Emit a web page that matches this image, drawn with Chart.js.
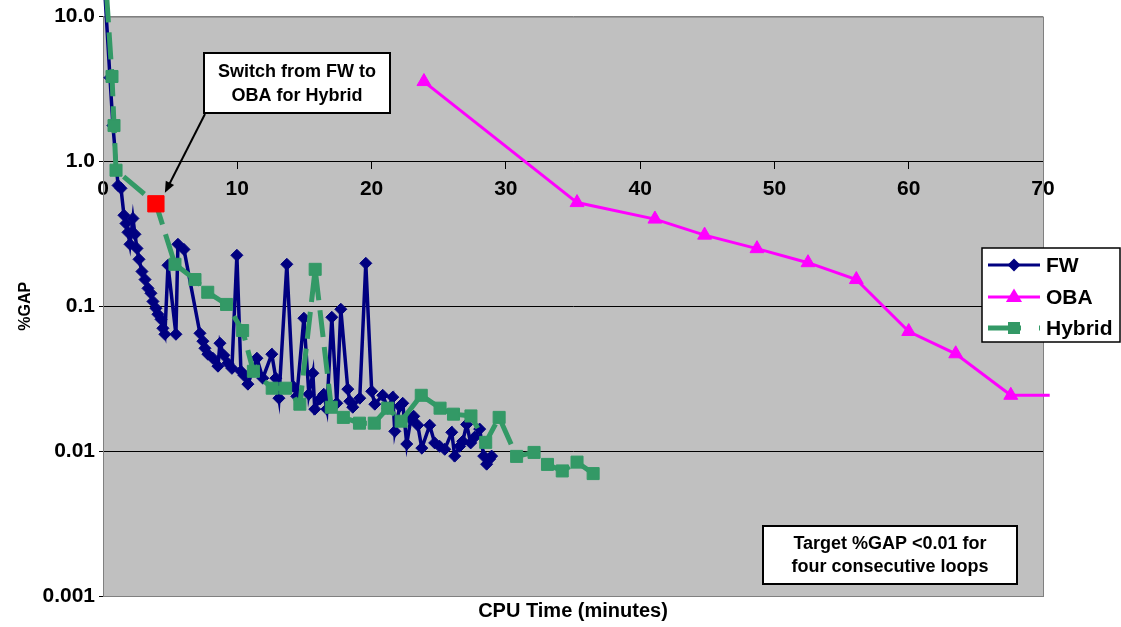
<!DOCTYPE html>
<html>
<head>
<meta charset="utf-8">
<script src="https://cdn.jsdelivr.net/npm/chart.js@4.4.0/dist/chart.umd.min.js"></script>
<style>
  html, body { margin: 0; padding: 0; background: #fff; }
  canvas { display: block; }
</style>
</head>
<body>
<canvas id="gap" width="1121" height="627"></canvas>
<script>
// CPU time (minutes) and %GAP
const fwTime = [0.15, 0.52, 0.74, 1.12, 1.34, 1.56, 1.71, 1.86, 2.01, 2.23, 2.38, 2.53, 2.68, 2.90, 3.13,
  3.35, 3.57, 3.72, 3.94, 4.09, 4.32, 4.46, 4.61, 4.84, 5.43, 5.58, 6.03, 7.22, 7.44, 7.59, 7.81, 8.18,
  8.56, 8.71, 9.00, 9.30, 9.60, 9.97, 10.27, 10.49, 10.79, 11.46, 11.90, 12.57, 12.87, 13.10, 13.69,
  14.14, 14.43, 14.96, 15.33, 15.63, 15.77, 16.15, 16.44, 16.67, 17.04, 17.41, 17.71, 18.23, 18.38,
  18.60, 19.12, 19.57, 20.01, 20.24, 20.83, 21.21, 21.58, 21.73, 22.10, 22.32, 22.62, 22.92, 23.14,
  23.44, 23.74, 24.33, 24.70, 25.07, 25.45, 25.97, 26.19, 26.56, 26.79, 27.08, 27.38, 27.68, 28.05,
  28.35, 28.57, 28.79, 28.94];
const fwGap = [14, 3.79, 1.77, 0.683, 0.652, 0.425, 0.373, 0.324, 0.268, 0.404, 0.314, 0.251, 0.211, 0.174, 0.153,
  0.133, 0.123, 0.108, 0.0969, 0.0881, 0.0813, 0.0705, 0.0641, 0.192, 0.0641, 0.268, 0.247, 0.0651, 0.0574, 0.0513, 0.0467, 0.0438,
  0.0386, 0.0556, 0.0459, 0.0404, 0.0373, 0.225, 0.0356, 0.0334, 0.029, 0.0438, 0.0319, 0.0467, 0.0319, 0.0232, 0.195,
  0.0281, 0.0239, 0.0827, 0.0247, 0.0345, 0.0195, 0.0229, 0.0247, 0.0195, 0.084, 0.0214, 0.0954, 0.0268, 0.0221,
  0.0201, 0.0232, 0.198, 0.0259, 0.0211, 0.0243, 0.0198, 0.0236, 0.0137, 0.0204, 0.0214, 0.0112, 0.0166, 0.0174,
  0.0151, 0.0105, 0.0151, 0.0114, 0.0108, 0.0103, 0.0135, 0.00924, 0.0108, 0.0117, 0.0153, 0.0114, 0.0125, 0.0142,
  0.00924, 0.00813, 0.00881, 0.00924];

const obaTime = [23.9, 35.3, 41.1, 44.8, 48.7, 52.5, 56.1, 60.0, 63.5, 67.6, 70.5];
const obaGap = [3.56, 0.52, 0.40, 0.31, 0.25, 0.20, 0.153, 0.067, 0.047, 0.0243, 0.0243];

const hybTime = [0.27, 0.67, 0.82, 0.97, 3.94, 5.36, 6.85, 7.8, 9.2, 10.4, 11.2, 12.6, 13.6, 14.66, 15.8,
  17.0, 17.9, 19.1, 20.2, 21.2, 22.2, 23.7, 25.1, 26.1, 27.4, 28.5, 29.5, 30.8, 32.1, 33.1, 34.2, 35.3, 36.5];
const hybGap = [14, 3.86, 1.77, 0.87, 0.51, 0.195, 0.153, 0.125, 0.103, 0.068, 0.0356, 0.0272, 0.0272, 0.0211, 0.180,
  0.0201, 0.0171, 0.0156, 0.0156, 0.0198, 0.0161, 0.0243, 0.0198, 0.018, 0.0175, 0.0115, 0.0171, 0.0092, 0.0098, 0.0081, 0.0073, 0.0084, 0.0070];
const switchIdx = 4; // FW -> OBA switch point of the hybrid run

const xTicks = [0, 10, 20, 30, 40, 50, 60, 70];
const yTicks = [0.001, 0.01, 0.1, 1, 10];
const yTickLabels = ['0.001', '0.01', '0.1', '1.0', '10.0'];

const NAVY = '#000080', PINK = '#FF00FF', GREEN = '#339966', RED = '#FF0000';
const FONT = '"Liberation Sans", Arial, sans-serif';

const pts = (xs, ys) => xs.map((x, i) => ({ x: x, y: ys[i] }));

Chart.defaults.font.family = FONT;
Chart.defaults.color = '#000';

// grey plot area + frame
const plotBox = {
  id: 'plotBox',
  beforeDraw(chart) {
    const { ctx, chartArea: a } = chart;
    ctx.save();
    ctx.fillStyle = '#C0C0C0';
    ctx.fillRect(a.left, a.top, a.right - a.left, a.bottom - a.top);
    ctx.restore();
  },
  beforeDatasetsDraw(chart) {
    const { ctx, chartArea: a } = chart;
    ctx.save();
    ctx.strokeStyle = '#808080';
    ctx.lineWidth = 1;
    ctx.strokeRect(a.left + 0.5, a.top + 0.5, a.right - a.left, a.bottom - a.top);
    ctx.restore();
  }
};

function textBox(ctx, x, y, w, h, lines, cx, ys) {
  ctx.fillStyle = '#fff';
  ctx.fillRect(x, y, w, h);
  ctx.strokeStyle = '#000';
  ctx.lineWidth = 2;
  ctx.strokeRect(x, y, w, h);
  ctx.fillStyle = '#000';
  ctx.font = 'bold 18px ' + FONT;
  ctx.textAlign = 'center';
  ctx.textBaseline = 'middle';
  lines.forEach((t, i) => ctx.fillText(t, cx, ys[i]));
}

function marker(ctx, style, x, y, r, color) {
  ctx.fillStyle = color;
  ctx.beginPath();
  if (style === 'diamond') {
    ctx.moveTo(x, y - r); ctx.lineTo(x + r, y); ctx.lineTo(x, y + r); ctx.lineTo(x - r, y);
  } else if (style === 'triangle') {
    ctx.moveTo(x, y - r); ctx.lineTo(x + r * 0.95, y + r * 0.6); ctx.lineTo(x - r * 0.95, y + r * 0.6);
  } else {
    ctx.rect(x - r, y - r, 2 * r, 2 * r);
  }
  ctx.closePath();
  ctx.fill();
}

const notes = {
  id: 'notes',
  afterDraw(chart) {
    const { ctx, scales } = chart;
    ctx.save();

    // switch annotation with arrow to the red point
    textBox(ctx, 204, 53, 186, 60, ['Switch from FW to', 'OBA for Hybrid'], 297, [72, 96]);
    const px = scales.x.getPixelForValue(hybTime[switchIdx]);
    const py = scales.y.getPixelForValue(hybGap[switchIdx]);
    const x0 = 205, y0 = 114, x1 = px + 9, y1 = py - 11;
    const ang = Math.atan2(y1 - y0, x1 - x0);
    ctx.strokeStyle = '#000';
    ctx.lineWidth = 2;
    ctx.beginPath();
    ctx.moveTo(x0, y0);
    ctx.lineTo(x1 - 6 * Math.cos(ang), y1 - 6 * Math.sin(ang));
    ctx.stroke();
    ctx.fillStyle = '#000';
    ctx.beginPath();
    ctx.moveTo(x1, y1);
    ctx.lineTo(x1 - 12 * Math.cos(ang - 0.4), y1 - 12 * Math.sin(ang - 0.4));
    ctx.lineTo(x1 - 12 * Math.cos(ang + 0.4), y1 - 12 * Math.sin(ang + 0.4));
    ctx.closePath();
    ctx.fill();

    textBox(ctx, 763, 526, 254, 58, ['Target %GAP <0.01 for', 'four consecutive loops'], 890, [544, 567]);

    // legend
    ctx.fillStyle = '#fff';
    ctx.fillRect(982, 248, 138, 94);
    ctx.strokeStyle = '#000';
    ctx.lineWidth = 1.5;
    ctx.strokeRect(982, 248, 138, 94);
    const rows = [
      { label: 'FW', color: NAVY, style: 'diamond', r: 6.5, y: 265, w: 3, dash: [] },
      { label: 'OBA', color: PINK, style: 'triangle', r: 8.5, y: 297, w: 3, dash: [] },
      { label: 'Hybrid', color: GREEN, style: 'square', r: 6, y: 328, w: 5, dash: [33, 18] }
    ];
    rows.forEach(rw => {
      ctx.strokeStyle = rw.color;
      ctx.lineWidth = rw.w;
      ctx.setLineDash(rw.dash);
      ctx.beginPath();
      ctx.moveTo(988, rw.y);
      ctx.lineTo(1040, rw.y);
      ctx.stroke();
      ctx.setLineDash([]);
      marker(ctx, rw.style, 1014, rw.y, rw.r, rw.color);
      ctx.fillStyle = '#000';
      ctx.font = 'bold 21px ' + FONT;
      ctx.textAlign = 'left';
      ctx.textBaseline = 'middle';
      ctx.fillText(rw.label, 1046, rw.y + 1);
    });
    ctx.restore();
  }
};

new Chart(document.getElementById('gap'), {
  type: 'line',
  data: {
    datasets: [
      {
        label: 'FW',
        data: pts(fwTime, fwGap),
        borderColor: NAVY,
        backgroundColor: NAVY,
        borderWidth: 3.5,
        pointStyle: 'rectRot',
        pointRadius: 6,
        pointBorderWidth: 1,
        order: 3,
        clip: false
      },
      {
        label: 'OBA',
        data: pts(obaTime, obaGap),
        borderColor: PINK,
        backgroundColor: PINK,
        borderWidth: 3,
        pointStyle: 'triangle',
        pointRadius: obaTime.map((t, i) => i === obaTime.length - 1 ? 0 : 8),
        pointBorderWidth: 1,
        order: 2,
        clip: false
      },
      {
        label: 'Hybrid',
        data: pts(hybTime, hybGap),
        borderColor: GREEN,
        backgroundColor: GREEN,
        borderWidth: 5,
        borderDash: [27, 10],
        pointStyle: 'rect',
        pointRadius: hybTime.map((t, i) => i === switchIdx ? 11.5 : 8.5),
        pointBackgroundColor: hybTime.map((t, i) => i === switchIdx ? RED : GREEN),
        pointBorderColor: hybTime.map((t, i) => i === switchIdx ? RED : GREEN),
        pointBorderWidth: 1,
        order: 1,
        clip: false
      }
    ]
  },
  options: {
    responsive: false,
    animation: false,
    events: [],
    layout: { padding: { top: 15, right: 78, bottom: 0, left: 0 } },
    plugins: {
      legend: { display: false },
      tooltip: { enabled: false },
      title: {
        display: true,
        position: 'bottom',
        fullSize: false,
        text: 'CPU Time (minutes)',
        font: { size: 20, weight: 'bold' },
        color: '#000',
        padding: { top: 3, bottom: 4 }
      }
    },
    scales: {
      x: {
        type: 'linear',
        position: { y: 1 },
        min: 0,
        max: 70,
        afterBuildTicks: s => { s.ticks = xTicks.map(v => ({ value: v })); },
        ticks: { font: { size: 21, weight: 'bold' }, color: '#000', padding: 8, maxRotation: 0 },
        grid: { drawOnChartArea: false, drawTicks: true, tickLength: 7, tickColor: '#000' },
        border: { display: true, color: '#000', width: 1 }
      },
      y: {
        type: 'logarithmic',
        position: 'left',
        min: 0.001,
        max: 10,
        afterBuildTicks: s => { s.ticks = yTicks.map(v => ({ value: v })); },
        afterFit: s => { s.width = 103; },
        ticks: {
          font: { size: 21, weight: 'bold' },
          color: '#000',
          padding: 4,
          callback: v => yTickLabels[yTicks.indexOf(v)]
        },
        grid: {
          color: c => (c.tick && (c.tick.value === 10 || c.tick.value === 0.001)) ? '#808080' : '#000',
          tickLength: 4,
          tickColor: '#000'
        },
        border: { display: true, color: '#808080' },
        title: {
          display: true,
          text: '%GAP',
          font: { size: 16, weight: 'bold' },
          color: '#000',
          padding: { top: 16, bottom: 0 }
        }
      }
    }
  },
  plugins: [plotBox, notes]
});
</script>
</body>
</html>
